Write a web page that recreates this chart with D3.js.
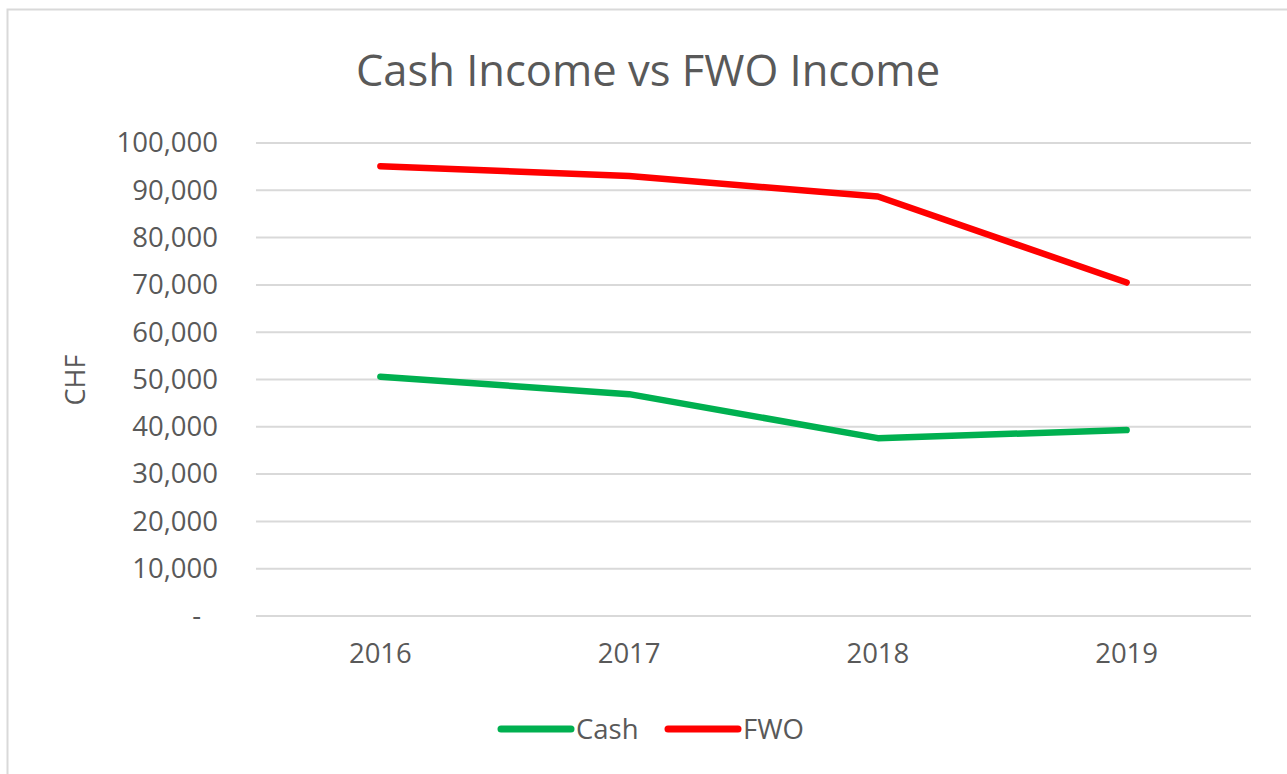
<!DOCTYPE html>
<html><head><meta charset="utf-8">
<script src="https://cdn.jsdelivr.net/npm/d3@7"></script>
<style>html,body{margin:0;padding:0;background:#fff;}svg{display:block;}</style>
</head><body>
<svg id="c" width="1287" height="774"></svg>
<script>
const categories = ["2016", "2017", "2018", "2019"];
const cashValues = [50600, 46900, 37600, 39300];
const fwoValues = [95100, 93000, 88700, 70500];
const yTicks = [0, 10000, 20000, 30000, 40000, 50000, 60000, 70000, 80000, 90000, 100000];
const seriesNames = ["Cash", "FWO"];
const seriesColors = ["#00b050", "#ff0000"];

(function () {
const svg = d3.select("#c");
const font = "'Open Sans', sans-serif";
const textColor = "#595959";

svg.append("rect").attr("x", 7.5).attr("y", 9.5).attr("width", 1300).attr("height", 800)
  .attr("fill", "#fff").attr("stroke", "#d9d9d9").attr("stroke-width", 2);

const pLeft = 256, pRight = 1251, pTop = 143, pBottom = 616;
const x = d3.scaleBand().domain(categories).range([pLeft, pRight]);
const y = d3.scaleLinear().domain([0, 100000]).range([pBottom, pTop]);

svg.append("g").selectAll("line").data(yTicks).join("line")
  .attr("x1", pLeft).attr("x2", pRight)
  .attr("y1", d => y(d)).attr("y2", d => y(d))
  .attr("stroke", "#d9d9d9").attr("stroke-width", 2);

const yAxis = d3.axisLeft(y).tickValues(yTicks)
  .tickFormat(d => d === 0 ? "-" : d3.format(",")(d)).tickSize(0).tickPadding(38);
const ya = svg.append("g").attr("transform", `translate(${pLeft},0)`).call(yAxis);
ya.select(".domain").remove();
ya.selectAll("text").attr("font-family", font).attr("font-size", 27.5).attr("fill", textColor)
  .attr("dx", d => d === 0 ? -17 : 0);

const xAxis = d3.axisBottom(x).tickSize(0).tickPadding(27);
const xa = svg.append("g").attr("transform", `translate(0,${pBottom})`).call(xAxis);
xa.select(".domain").remove();
xa.selectAll("text").attr("font-family", font).attr("font-size", 27.5).attr("fill", textColor);

const data = [cashValues, fwoValues];
const line = d3.line().x((d, i) => x(categories[i]) + x.bandwidth() / 2).y(d => y(d));
svg.append("g").selectAll("path").data(data).join("path")
  .attr("d", d => line(d)).attr("fill", "none")
  .attr("stroke", (d, i) => seriesColors[i]).attr("stroke-width", 6.5)
  .attr("stroke-linecap", "round").attr("stroke-linejoin", "round");

svg.append("text").attr("x", 648).attr("y", 86).attr("text-anchor", "middle")
  .attr("font-family", font).attr("font-size", 43.5).attr("fill", textColor)
  .text("Cash Income vs FWO Income");

svg.append("text").attr("transform", "translate(85,380) rotate(-90)").attr("text-anchor", "middle")
  .attr("font-family", font).attr("font-size", 27).attr("fill", textColor).text("CHF");

const legX = [501, 668];
const lg = svg.append("g").selectAll("g").data(seriesNames).join("g")
  .attr("transform", (d, i) => `translate(${legX[i]},729)`);
lg.append("line").attr("x1", 0).attr("x2", 70).attr("y1", 0).attr("y2", 0)
  .attr("stroke", (d, i) => seriesColors[i]).attr("stroke-width", 7).attr("stroke-linecap", "round");
lg.append("text").attr("x", 75).attr("y", 10).attr("font-family", font).attr("font-size", 27.5)
  .attr("fill", textColor).text(d => d);
})();
</script>
</body></html>
